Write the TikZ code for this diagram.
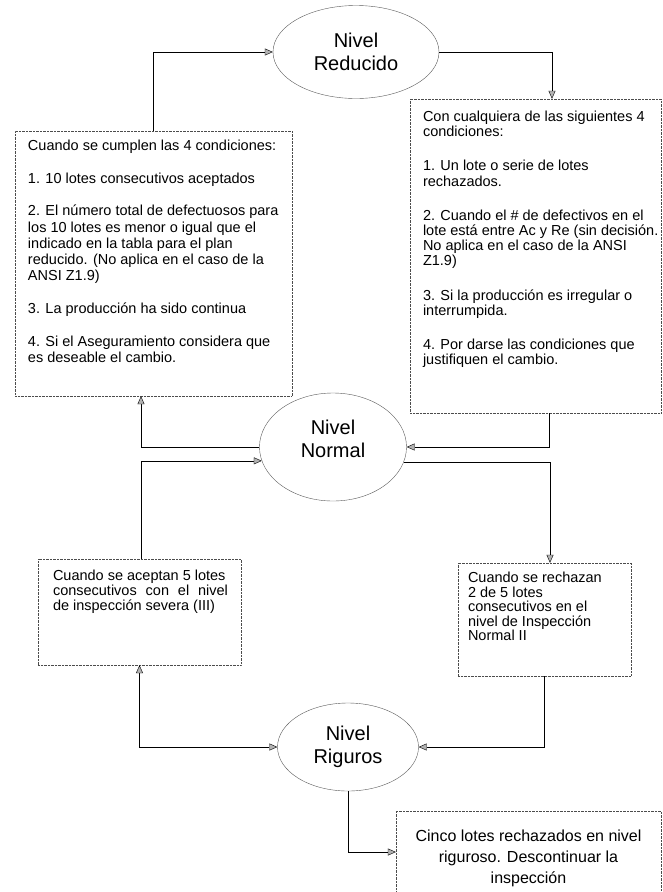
\documentclass[tikz,border=0pt]{standalone}
\usepackage{fontspec}
\setmainfont{Liberation Sans}
\usetikzlibrary{arrows.meta,shapes}
\usetikzlibrary{calc}

\begin{document}
\begin{tikzpicture}[>={Triangle[length=8pt,width=7pt,fill=black!30]},->,thin,node distance=100pt,
        level/.style={ellipse,draw=black!65,inner sep=0pt,align=center,font=\fontsize{20}{23}\selectfont},
        cond/.style={draw=black!70,densely dotted,inner sep=0pt,font=\fontsize{14.5}{16.3}\selectfont}]

        \useasboundingbox (0pt,0pt) rectangle (663pt,-892pt);

        \node [level,minimum width=147pt,minimum height=108pt] (normal) at (333pt,-447pt) {Nivel\\Normal\\[-6pt]};
        \node [level,minimum width=166pt,minimum height=93pt]  (reducido) [above of=normal,node distance=395pt,xshift=23pt] {Nivel\\Reducido};
        \node [level,minimum width=141pt,minimum height=88pt]  (riguros)  [below of=normal,node distance=300pt,xshift=15pt] {Nivel\\Riguros};

        \node [cond] (lbox) [above of=normal,node distance=183.5pt,xshift=-179.5pt]
          {\parbox[c][265pt][t]{277pt}{\raggedright\leftskip=13pt\vspace*{9pt}%
            Cuando se cumplen las 4 condiciones:\\[16.3pt]
            1. 10 lotes consecutivos aceptados\\[16.3pt]
            2. El número total de defectuosos para\\los 10 lotes es menor o igual que el\\indicado en la tabla para el plan\\reducido. (No aplica en el caso de la\\ANSI Z1.9)\\[16.3pt]
            3. La producción ha sido continua\\[16.3pt]
            4. Si el Aseguramiento considera que\\es deseable el cambio.}};
        \node [cond,font=\fontsize{14.5}{15.2}\selectfont] (rbox) [above of=normal,node distance=191pt,xshift=202.5pt]
          {\parbox[c][314pt][t]{251pt}{\raggedright\leftskip=13pt\vspace*{12pt}%
            Con cualquiera de las siguientes 4\\condiciones:\\[19pt]
            1. Un lote o serie de lotes\\rechazados.\\[19pt]
            2. Cuando el \# de defectivos en el\\lote está entre Ac y Re (sin decisión.\\No aplica en el caso de la ANSI\\Z1.9)\\[19pt]
            3. Si la producción es irregular o\\interrumpida.\\[19pt]
            4. Por darse las condiciones que\\justifiquen el cambio.}};
        \node [cond,font=\fontsize{14.5}{15}\selectfont] (llbox) [below of=normal,node distance=165pt,xshift=-193.5pt]
          {\parbox[c][106pt][t]{203pt}{\raggedright\leftskip=15pt\vspace*{11pt}%
            Cuando se aceptan 5 lotes\\\makebox[175pt][s]{consecutivos con el nivel}\\de inspección severa (III)}};
        \node [cond,font=\fontsize{14.5}{14.6}\selectfont] (lrbox) [below of=normal,node distance=172.5pt,xshift=211.5pt]
          {\parbox[c][113pt][t]{173pt}{\raggedright\leftskip=10pt\vspace*{9pt}%
            Cuando se rechazan\\2 de 5 lotes\\consecutivos en el\\nivel de Inspección\\Normal II}};
        \node [cond,font=\fontsize{16}{21}\selectfont] (cinco) [below of=riguros,node distance=105pt,xshift=180.5pt]
          {\parbox[c][82pt][t]{265pt}{\centering\vspace*{19pt}%
            Cinco lotes rechazados en nivel\\riguroso. Descontinuar la\\inspección}};

        \draw (lbox.north) |- (reducido.west);
        \draw (reducido.east) -| ([xshift=16.5pt]rbox.north);
        \draw (normal.west) -| ([xshift=-12.5pt]lbox.south);
        \draw ([xshift=1.5pt]llbox.north) |- (normal.191);
        \draw ([xshift=13.5pt]rbox.south) |- (normal.east);
        \draw (normal.348) -| ([xshift=5.5pt]lrbox.north);
        \draw [<->] (riguros.west) -| (llbox.south);
        \draw (lrbox.south) |- (riguros.east);
        \draw (riguros.south) |- (cinco.west);
      \end{tikzpicture}
\end{document}
